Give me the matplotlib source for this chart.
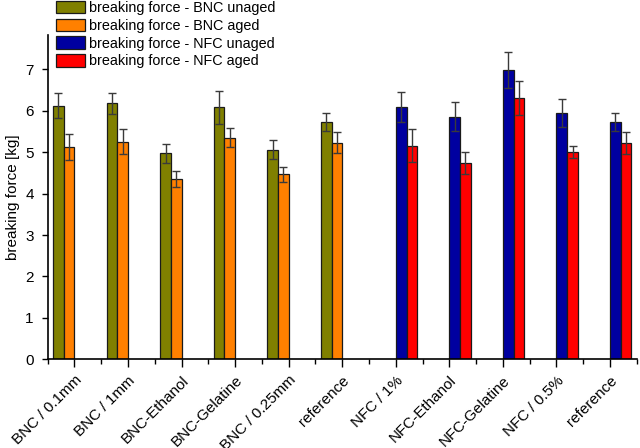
import matplotlib
matplotlib.use("Agg")
import matplotlib.pyplot as plt
import matplotlib.transforms as mtransforms
import numpy as np

plt.rcParams['font.family'] = ['Liberation Sans', 'DejaVu Sans']

categories = ["BNC / 0.1mm", "BNC / 1mm", "BNC-Ethanol", "BNC-Gelatine", "BNC / 0.25mm",
              "reference", "NFC / 1%", "NFC-Ethanol", "NFC-Gelatine", "NFC / 0.5%", "reference"]
nan = np.nan
bnc_unaged = [6.12, 6.18, 4.97, 6.08, 5.06, 5.72, nan, nan, nan, nan, nan]
bnc_unaged_err = [0.30, 0.26, 0.23, 0.40, 0.23, 0.22, nan, nan, nan, nan, nan]
bnc_aged = [5.12, 5.25, 4.36, 5.35, 4.47, 5.23, nan, nan, nan, nan, nan]
bnc_aged_err = [0.32, 0.30, 0.19, 0.23, 0.18, 0.26, nan, nan, nan, nan, nan]
nfc_unaged = [nan, nan, nan, nan, nan, nan, 6.09, 5.86, 6.98, 5.95, 5.72]
nfc_unaged_err = [nan, nan, nan, nan, nan, nan, 0.36, 0.34, 0.44, 0.34, 0.22]
nfc_aged = [nan, nan, nan, nan, nan, nan, 5.16, 4.74, 6.31, 5.00, 5.22]
nfc_aged_err = [nan, nan, nan, nan, nan, nan, 0.39, 0.27, 0.41, 0.14, 0.26]

series = [
    ("breaking force - BNC unaged", bnc_unaged, bnc_unaged_err, "#808000"),
    ("breaking force - BNC aged", bnc_aged, bnc_aged_err, "#FF8000"),
    ("breaking force - NFC unaged", nfc_unaged, nfc_unaged_err, "#0000A0"),
    ("breaking force - NFC aged", nfc_aged, nfc_aged_err, "#FF0000"),
]

fig = plt.figure(figsize=(6.4, 4.48), dpi=100)
ax = fig.add_axes([0.0745, 0.198, 0.9205, 0.724])

x = np.arange(len(categories))
w = 0.2
offsets = [-0.3, -0.1, 0.1, 0.3]
handles = []
for (label, vals, errs, color), off in zip(series, offsets):
    b = ax.bar(x + off, vals, width=w, color=color, edgecolor="#1a1a1a", linewidth=0.9,
               label=label, zorder=2)
    ax.errorbar(x + off, vals, yerr=errs, fmt="none", ecolor="#3a3a3a", elinewidth=1.0,
                capsize=3, capthick=1.0, zorder=3)
    handles.append(b)

ax.set_xlim(-0.5, 10.5)
ax.set_ylim(0, 7.83)
ax.set_yticks(range(0, 8))
ax.set_xticks(x)
ax.set_xticks(np.arange(-0.5, 11, 1.0), minor=True)
ax.set_xticklabels(categories, rotation=45, ha="right", rotation_mode="anchor", fontsize=11)
shift = mtransforms.ScaledTranslation(-3.5 / 100, 0, fig.dpi_scale_trans)
for lbl in ax.get_xticklabels():
    lbl.set_transform(lbl.get_transform() + shift)
ax.tick_params(axis="x", which="major", length=6, width=1, direction="out", pad=4)
ax.tick_params(axis="x", which="minor", length=3.5, width=1, direction="out")
ax.tick_params(axis="y", which="major", length=4, width=1, direction="out", labelsize=11, pad=6)
ax.spines["top"].set_visible(False)
ax.spines["right"].set_visible(False)
for s in ("left", "bottom"):
    ax.spines[s].set_linewidth(1.2)
ax.set_ylabel("breaking force [kg]", fontsize=11, labelpad=4)

fig.legend(handles=handles, loc="upper left", bbox_to_anchor=(55 / 640, 1.0),
           frameon=False, fontsize=10.4, handlelength=2.0, handleheight=0.95,
           labelspacing=0.25, handletextpad=0.3, borderpad=0.05, borderaxespad=0)

fig.savefig("out.png", dpi=100)
